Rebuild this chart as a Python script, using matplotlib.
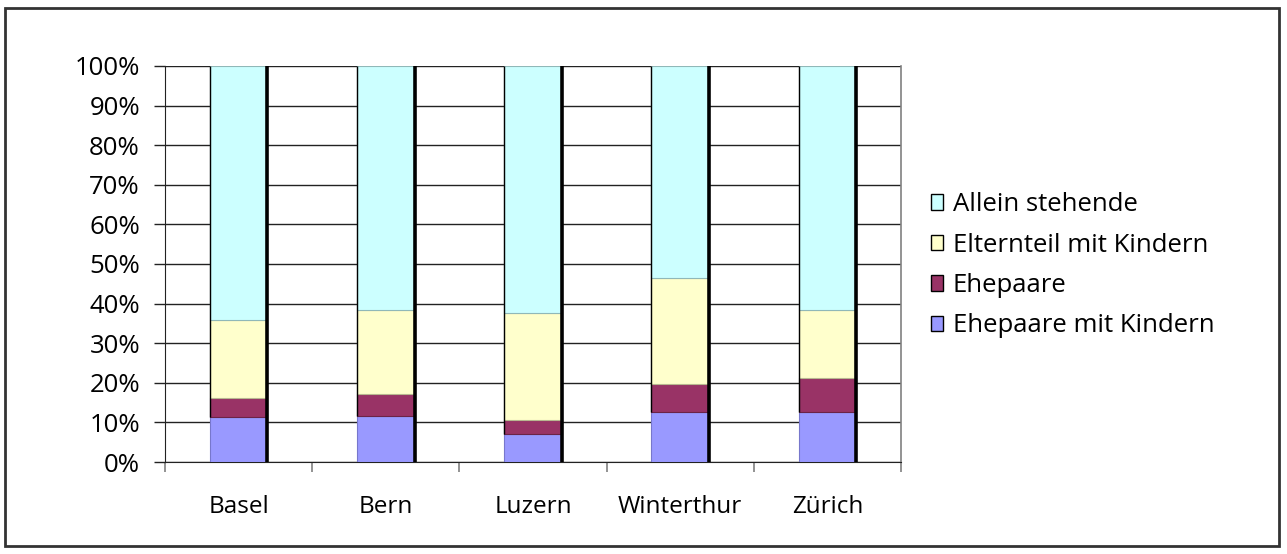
import matplotlib

matplotlib.use("Agg")
import matplotlib.pyplot as plt
import numpy as np
from matplotlib.patches import Patch, Rectangle
from matplotlib.ticker import FuncFormatter

plt.rcParams["font.family"] = ["Open Sans", "DejaVu Sans"]

cities = ["Basel", "Bern", "Luzern", "Winterthur", "Zürich"]
series = ["Ehepaare mit Kindern", "Ehepaare", "Elternteil mit Kindern", "Allein stehende"]
ehepaare_kinder = [11.3, 11.7, 7.1, 12.6, 12.6]
ehepaare = [4.9, 5.5, 3.6, 7.2, 8.7]
elternteil = [19.7, 21.3, 26.8, 26.7, 17.2]
allein = [64.1, 61.5, 62.5, 53.5, 61.5]

colors = ["#9999FF", "#993366", "#FFFFCC", "#CCFFFF"]
edges = ["#7777CC", "#6B2347", "#B8B890", "#90B8B8"]

W, H = 1287, 554
fig = plt.figure(figsize=(W / 100, H / 100), dpi=100)
ax = fig.add_axes([165 / W, 1 - 462 / H, (901 - 165) / W, (462 - 66) / H])

x = np.arange(len(cities))
width = 0.39
bottom = np.zeros(len(cities))
for vals, col, ec in zip([ehepaare_kinder, ehepaare, elternteil, allein], colors, edges):
    ax.bar(x, vals, width, bottom=bottom, color=col, edgecolor=ec, linewidth=0.8, zorder=3)
    bottom += np.array(vals)

# Excel-style bar outlines: thin left edge, heavy right edge
ax.vlines(x - width / 2, ehepaare_kinder, bottom, color="black", lw=1.0, zorder=4)
ax.vlines(x + width / 2, 0, bottom, color="black", lw=2.6, zorder=4)

ax.set_xlim(-0.5, len(cities) - 0.5)
ax.set_ylim(0, 100)
ax.set_yticks(np.arange(0, 101, 10))
ax.yaxis.set_major_formatter(FuncFormatter(lambda v, _: f"{v:.0f}%"))
ax.grid(axis="y", color="#222222", lw=1.0, zorder=0)

ax.set_xticks(np.arange(-0.5, len(cities), 1.0))
ax.set_xticklabels([])
ax.set_xticks(x, minor=True)
ax.set_xticklabels(cities, minor=True, fontsize=17.5)
ax.tick_params(axis="x", which="major", length=7, color="#808080", width=1.2)
ax.tick_params(axis="x", which="minor", length=0, pad=24)
ax.tick_params(axis="y", length=8, color="#222222", width=1.0, labelsize=18.5, pad=10)

ax.spines["top"].set_visible(False)
ax.spines["right"].set_color("#808080")
ax.spines["right"].set_linewidth(1.2)
ax.spines["left"].set_color("#222222")
ax.spines["bottom"].set_color("#222222")

handles = [Patch(facecolor=c, edgecolor="black", lw=1.0) for c in colors[::-1]]
fig.legend(
    handles,
    series[::-1],
    loc="upper left",
    bbox_to_anchor=(908 / W, 1 - 169 / H),
    frameon=False,
    fontsize=18.5,
    handlelength=0.45,
    handleheight=0.55,
    handletextpad=0.4,
    labelspacing=0.6,
)

fig.add_artist(
    Rectangle((5 / W, 1 - 546 / H), 1274 / W, 538 / H, transform=fig.transFigure,
              fill=False, edgecolor="#333333", lw=2)
)

fig.savefig("out.png", dpi=100)
